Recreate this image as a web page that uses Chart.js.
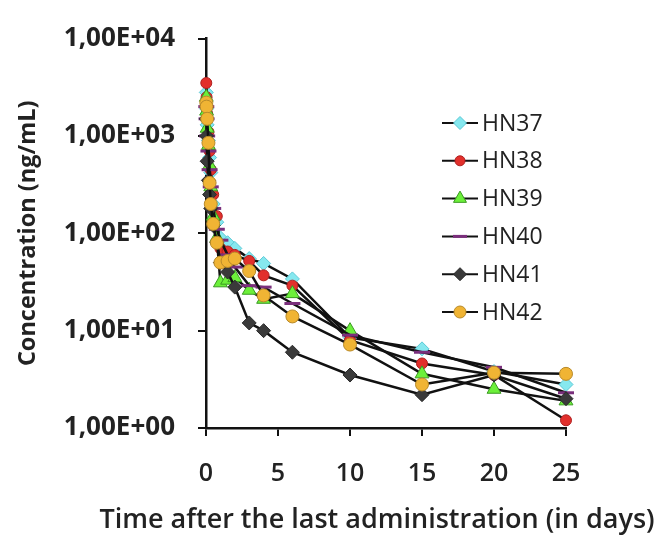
<!DOCTYPE html>
<html>
<head>
<meta charset="utf-8">
<script src="https://cdn.jsdelivr.net/npm/chart.js@4"></script>
<style>
  html, body { margin: 0; padding: 0; background: #ffffff; }
  canvas { display: block; }
</style>
</head>
<body>
<canvas id="pk" width="658" height="536"></canvas>
<script>
// Sampling times after the last administration (days)
const times = [0.02, 0.04, 0.08, 0.17, 0.25, 0.33, 0.5, 0.75, 1, 1.5, 2, 3, 4, 6, 10, 15, 20, 25];

// Plasma concentrations (ng/mL) per animal
const hn37 = [2800, 1900, 1300, 900, 600, 420, 200, 130, 90, 80, 70, 55, 49, 34, 8.5, 6.5, 3.8, 2.8];
const hn38 = [3500, 2500, 1700, 1100, 700, 450, 250, 150, 70, 65, 60, 52, 37, 29, 8, 4.6, 3.5, 1.2];
const hn39 = [2500, 1800, 1200, 800, 500, 300, 150, 90, 31, 33, 35, 26, 21, 24, 10, 3.6, 2.5, 1.9];
const hn40 = [2000, 1500, 1000, 700, 450, 300, 180, 110, 85, 60, 45, 29, 28, 19, 9, 6, 4.2, 2.3];
const hn41 = [1500, 1000, 550, 350, 250, 180, 120, 80, 50, 40, 28, 12, 10, 6, 3.5, 2.2, 3.5, 2.0];
const hn42 = [2200, 2000, 1500, 850, 330, 200, 125, 80, 50, 52, 55, 41, 23, 14, 7.2, 2.8, 3.7, 3.6];

const seriesNames = ['HN37', 'HN38', 'HN39', 'HN40', 'HN41', 'HN42'];

// Axis ticks and titles
const yTickValues = [1, 10, 100, 1000, 10000];
const yTickLabels = ['1,00E+00', '1,00E+01', '1,00E+02', '1,00E+03', '1,00E+04'];
const xTickValues = [0, 5, 10, 15, 20, 25];
const xTitle = 'Time after the last administration (in days)';
const yTitle = 'Concentration (ng/mL)';

const markerStyles = [
  { pointStyle: 'rectRot',  radius: 7,   fill: '#86e8ef', stroke: '#5cc9d6' },
  { pointStyle: 'circle',   radius: 5.5, fill: '#e2302c', stroke: '#b02020' },
  { pointStyle: 'triangle', radius: 8,   fill: '#6cf03a', stroke: '#3a9a22' },
  { pointStyle: 'line',     radius: 8,   fill: '#7a2f7c', stroke: '#7a2f7c' },
  { pointStyle: 'rectRot',  radius: 7,   fill: '#3a3a3a', stroke: '#2a2a2a' },
  { pointStyle: 'circle',   radius: 6.5, fill: '#f0b434', stroke: '#b88a2a' }
];

const values = [hn37, hn38, hn39, hn40, hn41, hn42];

const datasets = values.map((vals, i) => {
  const m = markerStyles[i];
  return {
    label: seriesNames[i],
    data: times.map((t, k) => ({ x: t, y: vals[k] })),
    borderColor: '#111111',
    borderWidth: 2.5,
    tension: 0,
    fill: false,
    clip: false,
    order: 5 - i,
    pointStyle: m.pointStyle,
    pointRadius: m.radius,
    pointBackgroundColor: m.fill,
    pointBorderColor: m.stroke,
    pointBorderWidth: m.pointStyle === 'line' ? 3 : 1
  };
});

// Legend drawn inside the plot, to the right
const insideLegend = {
  id: 'insideLegend',
  afterDraw(chart) {
    const ctx = chart.ctx;
    const x0 = 442, x1 = 478, xText = 482;
    const yStart = 123, step = 37.8;
    ctx.save();
    seriesNames.forEach((name, i) => {
      const y = yStart + i * step;
      const m = markerStyles[i];
      ctx.strokeStyle = '#111111';
      ctx.lineWidth = 2;
      ctx.beginPath();
      ctx.moveTo(x0, y);
      ctx.lineTo(x1, y);
      ctx.stroke();
      ctx.fillStyle = m.fill;
      ctx.strokeStyle = m.stroke;
      ctx.lineWidth = m.pointStyle === 'line' ? 3 : 1;
      Chart.helpers.drawPoint(ctx, {
        pointStyle: m.pointStyle,
        radius: m.pointStyle === 'line' ? 7 : m.radius - 0.5,
        rotation: 0,
        borderWidth: ctx.lineWidth
      }, (x0 + x1) / 2, y);
      ctx.fillStyle = '#222222';
      ctx.font = '400 23px "Open Sans"';
      ctx.textAlign = 'left';
      ctx.textBaseline = 'middle';
      ctx.fillText(name, xText, y + 1);
    });
    ctx.restore();
  }
};

// X axis title, wider than the plot area so drawn freely below it
const xTitlePlugin = {
  id: 'xTitle',
  afterDraw(chart) {
    const ctx = chart.ctx;
    ctx.save();
    ctx.fillStyle = '#222222';
    ctx.font = '600 27px "Open Sans"';
    ctx.textAlign = 'center';
    ctx.textBaseline = 'alphabetic';
    ctx.fillText(xTitle, 377, 528);
    ctx.restore();
  }
};

const bgPlugin = {
  id: 'bg',
  beforeDraw(chart) {
    const ctx = chart.ctx;
    ctx.save();
    ctx.fillStyle = '#ffffff';
    ctx.fillRect(0, 0, chart.width, chart.height);
    ctx.restore();
  }
};

new Chart(document.getElementById('pk'), {
  type: 'line',
  data: { datasets },
  options: {
    responsive: false,
    animation: false,
    devicePixelRatio: 1,
    layout: { padding: { left: 0, top: 37, right: 92, bottom: 0 } },
    plugins: {
      legend: { display: false },
      tooltip: { enabled: false }
    },
    scales: {
      x: {
        type: 'linear',
        min: 0,
        max: 25,
        afterBuildTicks(scale) {
          scale.ticks = xTickValues.map(v => ({ value: v }));
        },
        afterFit(scale) { scale.height = 108; },
        ticks: {
          color: '#222222',
          padding: 23,
          font: { family: 'Open Sans', size: 25, weight: '600' }
        },
        grid: {
          display: true,
          drawOnChartArea: false,
          drawTicks: true,
          tickLength: 8,
          color: '#111111',
          lineWidth: 2
        },
        border: { display: true, color: '#111111', width: 2.5 },
        title: { display: false }
      },
      y: {
        type: 'logarithmic',
        min: 1,
        max: 10000,
        afterBuildTicks(scale) {
          scale.ticks = yTickValues.map(v => ({ value: v }));
        },
        afterFit(scale) { scale.width = 206; },
        ticks: {
          color: '#222222',
          padding: 23,
          font: { family: 'Open Sans', size: 26, weight: 'bold' },
          callback(value) {
            const idx = yTickValues.indexOf(value);
            return idx >= 0 ? yTickLabels[idx] : '';
          }
        },
        grid: {
          display: true,
          drawOnChartArea: false,
          drawTicks: true,
          tickLength: 8,
          color: '#111111',
          lineWidth: 2
        },
        border: { display: true, color: '#111111', width: 2.5 },
        title: {
          display: true,
          text: yTitle,
          color: '#222222',
          padding: { top: 14, bottom: 0 },
          font: { family: 'Open Sans', size: 23.5, weight: 'bold' }
        }
      }
    }
  },
  plugins: [bgPlugin, insideLegend, xTitlePlugin]
});
</script>
</body>
</html>
